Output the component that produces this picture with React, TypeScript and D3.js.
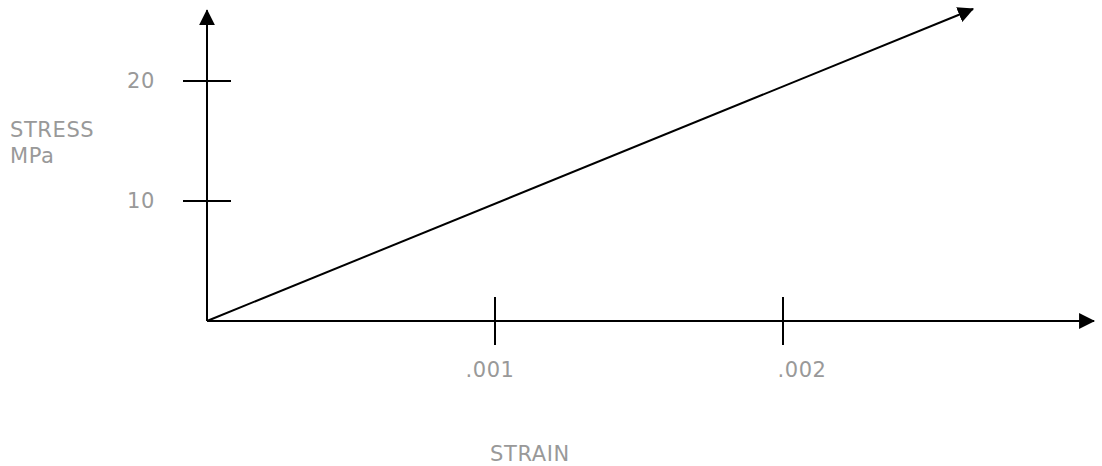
import React from "react";
import * as d3 from "d3";

const strainTicks = [0.001, 0.002];
const strainTickLabels = [".001", ".002"];
const stressTicks = [10, 20];
const stressTickLabels = ["10", "20"];
const lineStrain = [0, 0.00266];
const lineStress = [0, 26];
const axisStrainMax = 0.00308;
const axisStressMax = 25.9;
const xTitle = "STRAIN";
const yTitleLines = ["STRESS", "MPa"];

const W = 1102;
const H = 466;

export default function App() {
  const x = d3.scaleLinear().domain([0, 0.003]).range([207, 1071]);
  const y = d3.scaleLinear().domain([0, 20]).range([321, 81]);
  const line = d3
    .line<number>()
    .x((_, i) => x(lineStrain[i]))
    .y((_, i) => y(lineStress[i]));
  const textColor = "#999999";
  const font = "'DejaVu Sans', Verdana, sans-serif";
  const fs = 21;
  const ls = 0.6;
  const labelDx = [-5, 19];
  return (
    <svg
      width={W}
      height={H}
      style={{ position: "absolute", left: 0, top: 0, background: "#fff" }}
      fontFamily={font}
    >
      <defs>
        <marker
          id="arrow"
          viewBox="0 0 16 16"
          refX="15"
          refY="8"
          markerWidth="16"
          markerHeight="16"
          markerUnits="userSpaceOnUse"
          orient="auto"
        >
          <path d="M0,0 L16,8 L0,16 Z" fill="#000" />
        </marker>
      </defs>
      <line
        x1={x(0)}
        y1={y(0)}
        x2={x(axisStrainMax)}
        y2={y(0)}
        stroke="#000"
        strokeWidth={2}
        markerEnd="url(#arrow)"
      />
      <line
        x1={x(0)}
        y1={y(0)}
        x2={x(0)}
        y2={y(axisStressMax)}
        stroke="#000"
        strokeWidth={2}
        markerEnd="url(#arrow)"
      />
      {strainTicks.map((t, i) => (
        <g key={"xt" + i}>
          <line x1={x(t)} x2={x(t)} y1={y(0) - 24} y2={y(0) + 24} stroke="#000" strokeWidth={2} />
          <text
            x={x(t) + labelDx[i]}
            y={y(0) + 56}
            textAnchor="middle"
            fill={textColor}
            fontSize={fs}
            letterSpacing={ls}
          >
            {strainTickLabels[i]}
          </text>
        </g>
      ))}
      {stressTicks.map((t, i) => (
        <g key={"yt" + i}>
          <line x1={x(0) - 24} x2={x(0) + 24} y1={y(t)} y2={y(t)} stroke="#000" strokeWidth={2} />
          <text x={x(0) - 52} y={y(t) + 7} textAnchor="end" fill={textColor} fontSize={fs} letterSpacing={ls}>
            {stressTickLabels[i]}
          </text>
        </g>
      ))}
      <path
        d={line(lineStrain) || ""}
        fill="none"
        stroke="#000"
        strokeWidth={2}
        markerEnd="url(#arrow)"
      />
      {yTitleLines.map((s, i) => (
        <text key={s} x={10} y={137 + i * 26} fill={textColor} fontSize={fs} letterSpacing={ls}>
          {s}
        </text>
      ))}
      <text x={530} y={461} textAnchor="middle" fill={textColor} fontSize={fs} letterSpacing={ls}>
        {xTitle}
      </text>
    </svg>
  );
}
